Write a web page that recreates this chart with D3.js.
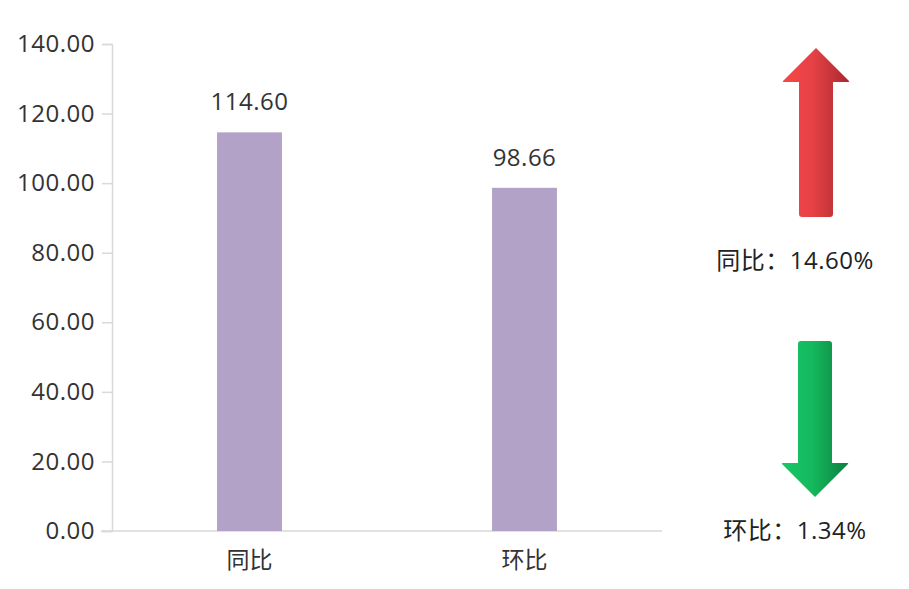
<!DOCTYPE html>
<html lang="zh-CN">
<head>
  <meta charset="utf-8" />
  <title>同比环比</title>
  <script src="https://cdn.jsdelivr.net/npm/d3@7"></script>
  <style>
    body { margin: 0; background: #fff; }
    svg text { font-family: "Open Sans", "Noto Sans CJK SC", sans-serif; }
  </style>
</head>
<body>
  <div id="chart"></div>
  <script>
    // 数据
    const categories = ["同比", "环比"];
    const values = [114.60, 98.66];
    const yTicks = [0, 20, 40, 60, 80, 100, 120, 140];
    const indicators = [
      { label: "同比：14.60%", dir: "up" },
      { label: "环比：1.34%", dir: "down" }
    ];

    const width = 909;
    const height = 589;
    const marginTop = 44;
    const marginLeft = 112;
    const plotRight = 662;
    const marginBottom = 58;

    const svg = d3.select("#chart")
      .append("svg")
      .attr("width", width)
      .attr("height", height)
      .attr("viewBox", [0, 0, width, height]);

    const x = d3.scaleBand()
      .domain(categories)
      .range([marginLeft, plotRight])
      .paddingInner(0.764)
      .paddingOuter(0.382);

    const y = d3.scaleLinear()
      .domain([0, 140])
      .range([height - marginBottom, marginTop]);

    // Y 轴
    const gy = svg.append("g")
      .attr("transform", `translate(${marginLeft},0)`)
      .call(d3.axisLeft(y).tickValues(yTicks).tickFormat(d => d.toFixed(2)).tickSize(10).tickPadding(7));
    gy.selectAll(".domain, .tick line").attr("stroke", "#d9d9d9").attr("stroke-width", 1.5);
    gy.selectAll("text").attr("fill", "#333").attr("letter-spacing", 0.5).style("font-size", "24px");

    // X 轴
    const gx = svg.append("g")
      .attr("transform", `translate(0,${height - marginBottom})`)
      .call(d3.axisBottom(x).tickSize(0).tickPadding(21).tickSizeOuter(0));
    gx.select(".domain").attr("stroke", "#d9d9d9").attr("stroke-width", 1.5)
      .attr("d", `M${marginLeft - 11},0H${plotRight}`);
    gx.selectAll("text").attr("fill", "#333").style("font-size", "23px");

    // 柱子
    svg.append("g")
      .selectAll("rect")
      .data(values)
      .join("rect")
      .attr("x", (d, i) => x(categories[i]))
      .attr("width", x.bandwidth())
      .attr("y", d => y(d))
      .attr("height", d => y(0) - y(d))
      .attr("fill", "#b3a2c8");

    // 数值标签
    svg.append("g")
      .selectAll("text")
      .data(values)
      .join("text")
      .attr("x", (d, i) => x(categories[i]) + x.bandwidth() / 2)
      .attr("y", d => y(d) - 22)
      .attr("text-anchor", "middle")
      .attr("fill", "#333")
      .attr("letter-spacing", 0.5)
      .style("font-size", "24px")
      .text(d => d.toFixed(2));

    // 渐变
    const defs = svg.append("defs");
    const grads = { up: ["#f6474b", "#a8292d"], down: ["#17c866", "#0b7f3f"] };
    Object.entries(grads).forEach(([k, c]) => {
      const g = defs.append("linearGradient").attr("id", "grad-" + k)
        .attr("x1", "0%").attr("x2", "100%").attr("y1", "0%").attr("y2", "0%");
      g.append("stop").attr("offset", "0%").attr("stop-color", c[0]);
      g.append("stop").attr("offset", "45%").attr("stop-color", d3.interpolateRgb(c[0], c[1])(0.2));
      g.append("stop").attr("offset", "100%").attr("stop-color", c[1]);
    });

    // 箭头（向上），尖端在原点，len 为总长
    const arrowPath = len => `M0,0 L33,33 Q34,34 32,34 L17,34 L17,${len - 3} Q17,${len} 14,${len} L-14,${len} Q-17,${len} -17,${len - 3} L-17,34 L-32,34 Q-34,34 -33,33 Z`;
    const arrowPos = {
      up: { tx: 816, ty: 48, len: 169, flip: 1, ly: 269 },
      down: { tx: 815, ty: 497, len: 156, flip: -1, ly: 539 }
    };

    const ind = svg.append("g")
      .selectAll("g")
      .data(indicators)
      .join("g");

    ind.append("path")
      .attr("d", d => arrowPath(arrowPos[d.dir].len))
      .attr("fill", d => `url(#grad-${d.dir})`)
      .attr("transform", d => `translate(${arrowPos[d.dir].tx},${arrowPos[d.dir].ty}) scale(1,${arrowPos[d.dir].flip})`);

    ind.append("text")
      .attr("x", 795)
      .attr("y", d => arrowPos[d.dir].ly)
      .attr("text-anchor", "middle")
      .attr("fill", "#222")
      .attr("letter-spacing", 0.5)
      .style("font-size", "24px")
      .text(d => d.label);
  </script>
</body>
</html>
